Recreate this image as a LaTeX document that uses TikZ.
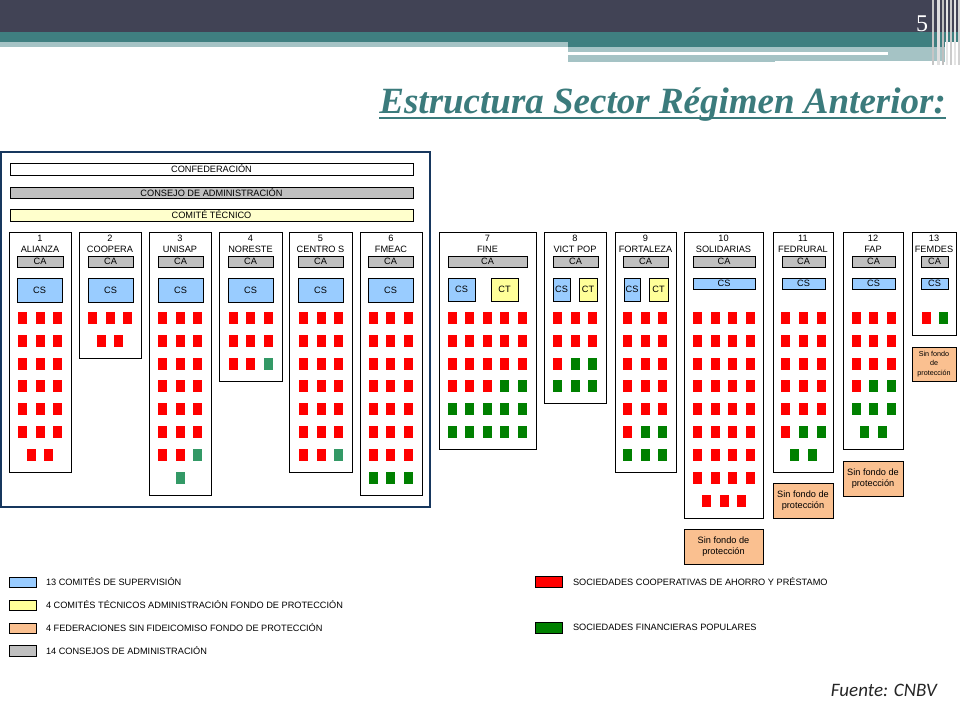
\documentclass[tikz,border=0pt]{standalone}
\usepackage{fontspec}
\setmainfont{Liberation Serif}
\newfontfamily\arialf{Liberation Sans}
\newfontfamily\calf{Carlito}
\definecolor{darkband}{HTML}{414355}
\definecolor{tealband}{HTML}{3F7F80}
\definecolor{ltealband}{HTML}{A5C3C5}
\definecolor{titleteal}{HTML}{3B7B7C}
\definecolor{navyframe}{HTML}{17375E}
\definecolor{grayfill}{HTML}{C0C0C0}
\definecolor{bluefill}{HTML}{99CCFF}
\definecolor{yelfill}{HTML}{FFFF99}
\definecolor{lyelfill}{HTML}{FFFFCC}
\definecolor{peachfill}{HTML}{FAC090}
\definecolor{sqR}{HTML}{FF0000}
\definecolor{sqG}{HTML}{008000}
\definecolor{sqS}{HTML}{339966}
\newcommand\cf{\arialf\fontsize{9.2}{10.5}\selectfont}
\newcommand\bx[7]{\node[#6, minimum width={#4-#2}, minimum height={#5-#3}] (#1) at ({(#2+#4)/2},{(#3+#5)/2}) {#7};}
\newcommand\sqrow[2]{\foreach \xx/\cc in {#2} {\fill[fill=\cc] ({\xx-4.5},{#1-6}) rectangle ++(9,12);}}
\newcommand\hdr[4]{\node[lbl] (num#1) at (#2,238) {#3}; \node[lbl] (name#1) at (#2,249.5) {#4};}
\begin{document}
\begin{tikzpicture}[x=1pt,y=-1pt,
  base/.style={inner sep=0pt, outer sep=0pt, font=\cf, align=center},
  colbox/.style={base, draw=black, line width=0.8pt, fill=white},
  bar/.style={base, draw=black, line width=0.8pt},
  cabox/.style={bar, fill=grayfill},
  csbox/.style={bar, fill=bluefill},
  ctbox/.style={bar, fill=yelfill},
  sfbox/.style={bar, fill=peachfill},
  lbl/.style={base},
  swatch/.style={bar, line width=0.6pt},
  legtext/.style={base, anchor=west}]
\useasboundingbox (0,0) rectangle (960,720);
\fill[white] (0,0) rectangle (960,720);
% header bands
\fill[darkband] (0,0) rectangle (960,32);
\fill[tealband] (0,32) rectangle (960,42);
\fill[ltealband] (0,42) rectangle (568,47);
\fill[tealband] (568,42) rectangle (945,47);
\fill[ltealband] (568,47) rectangle (945,62);
\fill[white] (568,52) rectangle (888,54.5);
\fill[white] (775,60.5) rectangle (943,62);
% right vertical stripes
\fill[gray!45] (932,0) rectangle (934,65);
\fill[gray!25] (937,0) rectangle (939.5,65);
\fill[gray!50] (942,0) rectangle (944,65);
\fill[gray!20] (946,0) rectangle (948,65);
\fill[gray!40] (950,0) rectangle (952,65);
\fill[gray!22] (954,0) rectangle (956,65);
\fill[gray!35] (958,0) rectangle (960,65);
\node[text=white, font=\fontsize{24}{24}\selectfont, inner sep=0pt] (pagenum) at (922,24) {5};
% title
\node[anchor=base east, text=titleteal, inner sep=0pt, font=\fontsize{37}{40}\selectfont\bfseries\itshape] (title) at (946,113) {Estructura Sector Régimen Anterior:};
\draw[titleteal, line width=1.8pt] ([yshift=-5pt]title.base west) -- ([yshift=-5pt]title.base east);
% panel frame
\bx{panel}{1}{152}{430}{507}{base, draw=navyframe, line width=2pt}{}
\bx{confed}{10}{163}{413}{175}{bar, fill=white}{CONFEDERACIÓN}
\bx{consejo}{10}{187}{413}{198}{bar, fill=grayfill}{CONSEJO DE ADMINISTRACIÓN}
\bx{comite}{10}{209}{413}{221}{bar, fill=lyelfill}{COMITÉ TÉCNICO}
% column boxes
\bx{col1}{9}{232}{71}{472}{colbox}{}
\bx{col2}{79}{232}{141}{358}{colbox}{}
\bx{col3}{149}{232}{211}{495}{colbox}{}
\bx{col4}{219}{232}{282}{381}{colbox}{}
\bx{col5}{289}{232}{352}{472}{colbox}{}
\bx{col6}{360}{232}{422}{495}{colbox}{}
\bx{col7}{439}{232}{536}{449}{colbox}{}
\bx{col8}{544}{232}{606}{403}{colbox}{}
\bx{col9}{615}{232}{676}{472}{colbox}{}
\bx{col10}{684}{232}{763}{518}{colbox}{}
\bx{col11}{773}{232}{833}{472}{colbox}{}
\bx{col12}{843}{232}{903}{449}{colbox}{}
\bx{col13}{912}{232}{956}{335}{colbox}{}
% headers
\hdr{1}{40}{1}{ALIANZA}
\hdr{2}{110}{2}{COOPERA}
\hdr{3}{180}{3}{UNISAP}
\hdr{4}{250.5}{4}{NORESTE}
\hdr{5}{320.5}{5}{CENTRO S}
\hdr{6}{391}{6}{FMEAC}
\hdr{7}{487.5}{7}{FINE}
\hdr{8}{575}{8}{VICT POP}
\hdr{9}{645.5}{9}{FORTALEZA}
\hdr{10}{723.5}{10}{SOLIDARIAS}
\hdr{11}{803}{11}{FEDRURAL}
\hdr{12}{873}{12}{FAP}
\hdr{13}{934}{13}{FEMDES}
% CA boxes
\bx{ca1}{17}{256}{63}{267}{cabox}{CA}
\bx{ca2}{88}{256}{133}{267}{cabox}{CA}
\bx{ca3}{158}{256}{203}{267}{cabox}{CA}
\bx{ca4}{228}{256}{273}{267}{cabox}{CA}
\bx{ca5}{298}{256}{343}{267}{cabox}{CA}
\bx{ca6}{368}{256}{413}{267}{cabox}{CA}
\bx{ca7}{448}{256}{527}{267}{cabox}{CA}
\bx{ca8}{553}{256}{598}{267}{cabox}{CA}
\bx{ca9}{623}{256}{668}{267}{cabox}{CA}
\bx{ca10}{693}{256}{755}{267}{cabox}{CA}
\bx{ca11}{782}{256}{825}{267}{cabox}{CA}
\bx{ca12}{852}{256}{895}{267}{cabox}{CA}
\bx{ca13}{921}{256}{948}{267}{cabox}{CA}
% CS / CT boxes
\bx{cs1}{17}{278}{62}{302}{csbox}{CS}
\bx{cs2}{88}{278}{133}{302}{csbox}{CS}
\bx{cs3}{158}{278}{203}{302}{csbox}{CS}
\bx{cs4}{228}{278}{273}{302}{csbox}{CS}
\bx{cs5}{298}{278}{343}{302}{csbox}{CS}
\bx{cs6}{368}{278}{413}{302}{csbox}{CS}
\bx{cs7}{448}{278}{475}{301}{csbox}{CS}
\bx{ct7}{491}{278}{518}{301}{ctbox}{CT}
\bx{cs8}{553}{278}{570}{301}{csbox}{CS}
\bx{ct8}{579}{278}{597}{301}{ctbox}{CT}
\bx{cs9}{624}{278}{640}{301}{csbox}{CS}
\bx{ct9}{649}{278}{668}{301}{ctbox}{CT}
\bx{cs10}{693}{278}{755}{289}{csbox}{CS}
\bx{cs11}{782}{278}{825}{289}{csbox}{CS}
\bx{cs12}{852}{278}{895}{289}{csbox}{CS}
\bx{cs13}{921}{278}{948}{289}{csbox}{CS}
% Sin fondo boxes
\bx{sf10}{684}{529}{763}{564}{sfbox}{Sin fondo de\\protección}
\bx{sf11}{773}{483}{833}{518}{sfbox}{Sin fondo de\\protección}
\bx{sf12}{843}{461}{903}{496}{sfbox}{Sin fondo de\\protección}
\bx{sf13}{912}{347}{956}{381}{sfbox, font=\arialf\fontsize{7.2}{9.5}\selectfont}{Sin fondo\\de\\protección}
% squares col1
\foreach \yy in {318,341,364,386,409,432} {\sqrow{\yy}{22/sqR,40/sqR,57/sqR}}
\sqrow{455}{31.5/sqR,48.5/sqR}
% col2
\sqrow{318}{92/sqR,110/sqR,127/sqR}
\sqrow{341}{101/sqR,118/sqR}
% col3
\foreach \yy in {318,341,364,386,409,432} {\sqrow{\yy}{162/sqR,180/sqR,197/sqR}}
\sqrow{455}{162/sqR,180/sqR,197/sqS}
\sqrow{478}{180/sqS}
% col4
\foreach \yy in {318,341} {\sqrow{\yy}{233/sqR,250/sqR,268/sqR}}
\sqrow{364}{233/sqR,250/sqR,268/sqS}
% col5
\foreach \yy in {318,341,364,386,409,432} {\sqrow{\yy}{303/sqR,321/sqR,338/sqR}}
\sqrow{455}{303/sqR,321/sqR,338/sqS}
% col6
\foreach \yy in {318,341,364,386,409,432,455} {\sqrow{\yy}{373/sqR,390/sqR,408/sqR}}
\sqrow{478}{373/sqG,390/sqG,408/sqG}
% col7
\foreach \yy in {318,341,364} {\sqrow{\yy}{452/sqR,469/sqR,487/sqR,504/sqR,522/sqR}}
\sqrow{386}{452/sqR,469/sqR,487/sqR,504/sqG,522/sqG}
\foreach \yy in {409,432} {\sqrow{\yy}{452/sqG,469/sqG,487/sqG,504/sqG,522/sqG}}
% col8
\foreach \yy in {318,341} {\sqrow{\yy}{557/sqR,575/sqR,592/sqR}}
\sqrow{364}{557/sqR,575/sqG,592/sqG}
\sqrow{386}{557/sqG,575/sqG,592/sqG}
% col9
\foreach \yy in {318,341,364,386,409} {\sqrow{\yy}{627/sqR,645/sqR,662/sqR}}
\sqrow{432}{627/sqR,645/sqG,662/sqG}
\sqrow{455}{627/sqG,645/sqG,662/sqG}
% col10
\foreach \yy in {318,341,364,386,409,432,455,478} {\sqrow{\yy}{697/sqR,715/sqR,732/sqR,750/sqR}}
\sqrow{501}{706/sqR,724/sqR,741/sqR}
% col11
\foreach \yy in {318,341,364,386,409} {\sqrow{\yy}{785/sqR,803/sqR,821/sqR}}
\sqrow{432}{785/sqR,803/sqG,821/sqG}
\sqrow{455}{794/sqG,812/sqG}
% col12
\foreach \yy in {318,341,364} {\sqrow{\yy}{856/sqR,873/sqR,891/sqR}}
\sqrow{386}{856/sqR,873/sqG,891/sqG}
\sqrow{409}{856/sqG,873/sqG,891/sqG}
\sqrow{432}{864/sqG,882/sqG}
% col13
\sqrow{318}{926/sqR,943/sqG}
% legend
\bx{lgblue}{9}{577}{36}{587}{swatch, fill=bluefill}{}
\bx{lgyel}{9}{600}{36}{610}{swatch, fill=yelfill}{}
\bx{lgpeach}{9}{623}{36}{633}{swatch, fill=peachfill}{}
\bx{lggray}{9}{645}{36}{656}{swatch, fill=grayfill}{}
\bx{lgred}{535}{576}{562}{587}{swatch, fill=sqR}{}
\bx{lggreen}{535}{622}{562}{633}{swatch, fill=sqG}{}
\node[legtext] (tblue) at (46,582) {13 COMITÉS DE SUPERVISIÓN};
\node[legtext] (tyel) at (46,605) {4 COMITÉS TÉCNICOS ADMINISTRACIÓN FONDO DE PROTECCIÓN};
\node[legtext] (tpeach) at (46,628) {4 FEDERACIONES SIN FIDEICOMISO FONDO DE PROTECCIÓN};
\node[legtext] (tgray) at (46,650.5) {14 CONSEJOS DE ADMINISTRACIÓN};
\node[legtext] (tred) at (573,581.5) {SOCIEDADES COOPERATIVAS DE AHORRO Y PRÉSTAMO};
\node[legtext] (tgreen) at (573,627.5) {SOCIEDADES FINANCIERAS POPULARES};
% source
\node[anchor=east, inner sep=0pt, font=\calf\itshape\fontsize{19}{22}\selectfont, text=black!85] (fuente) at (937,690) {Fuente: CNBV};
\end{tikzpicture}
\end{document}
